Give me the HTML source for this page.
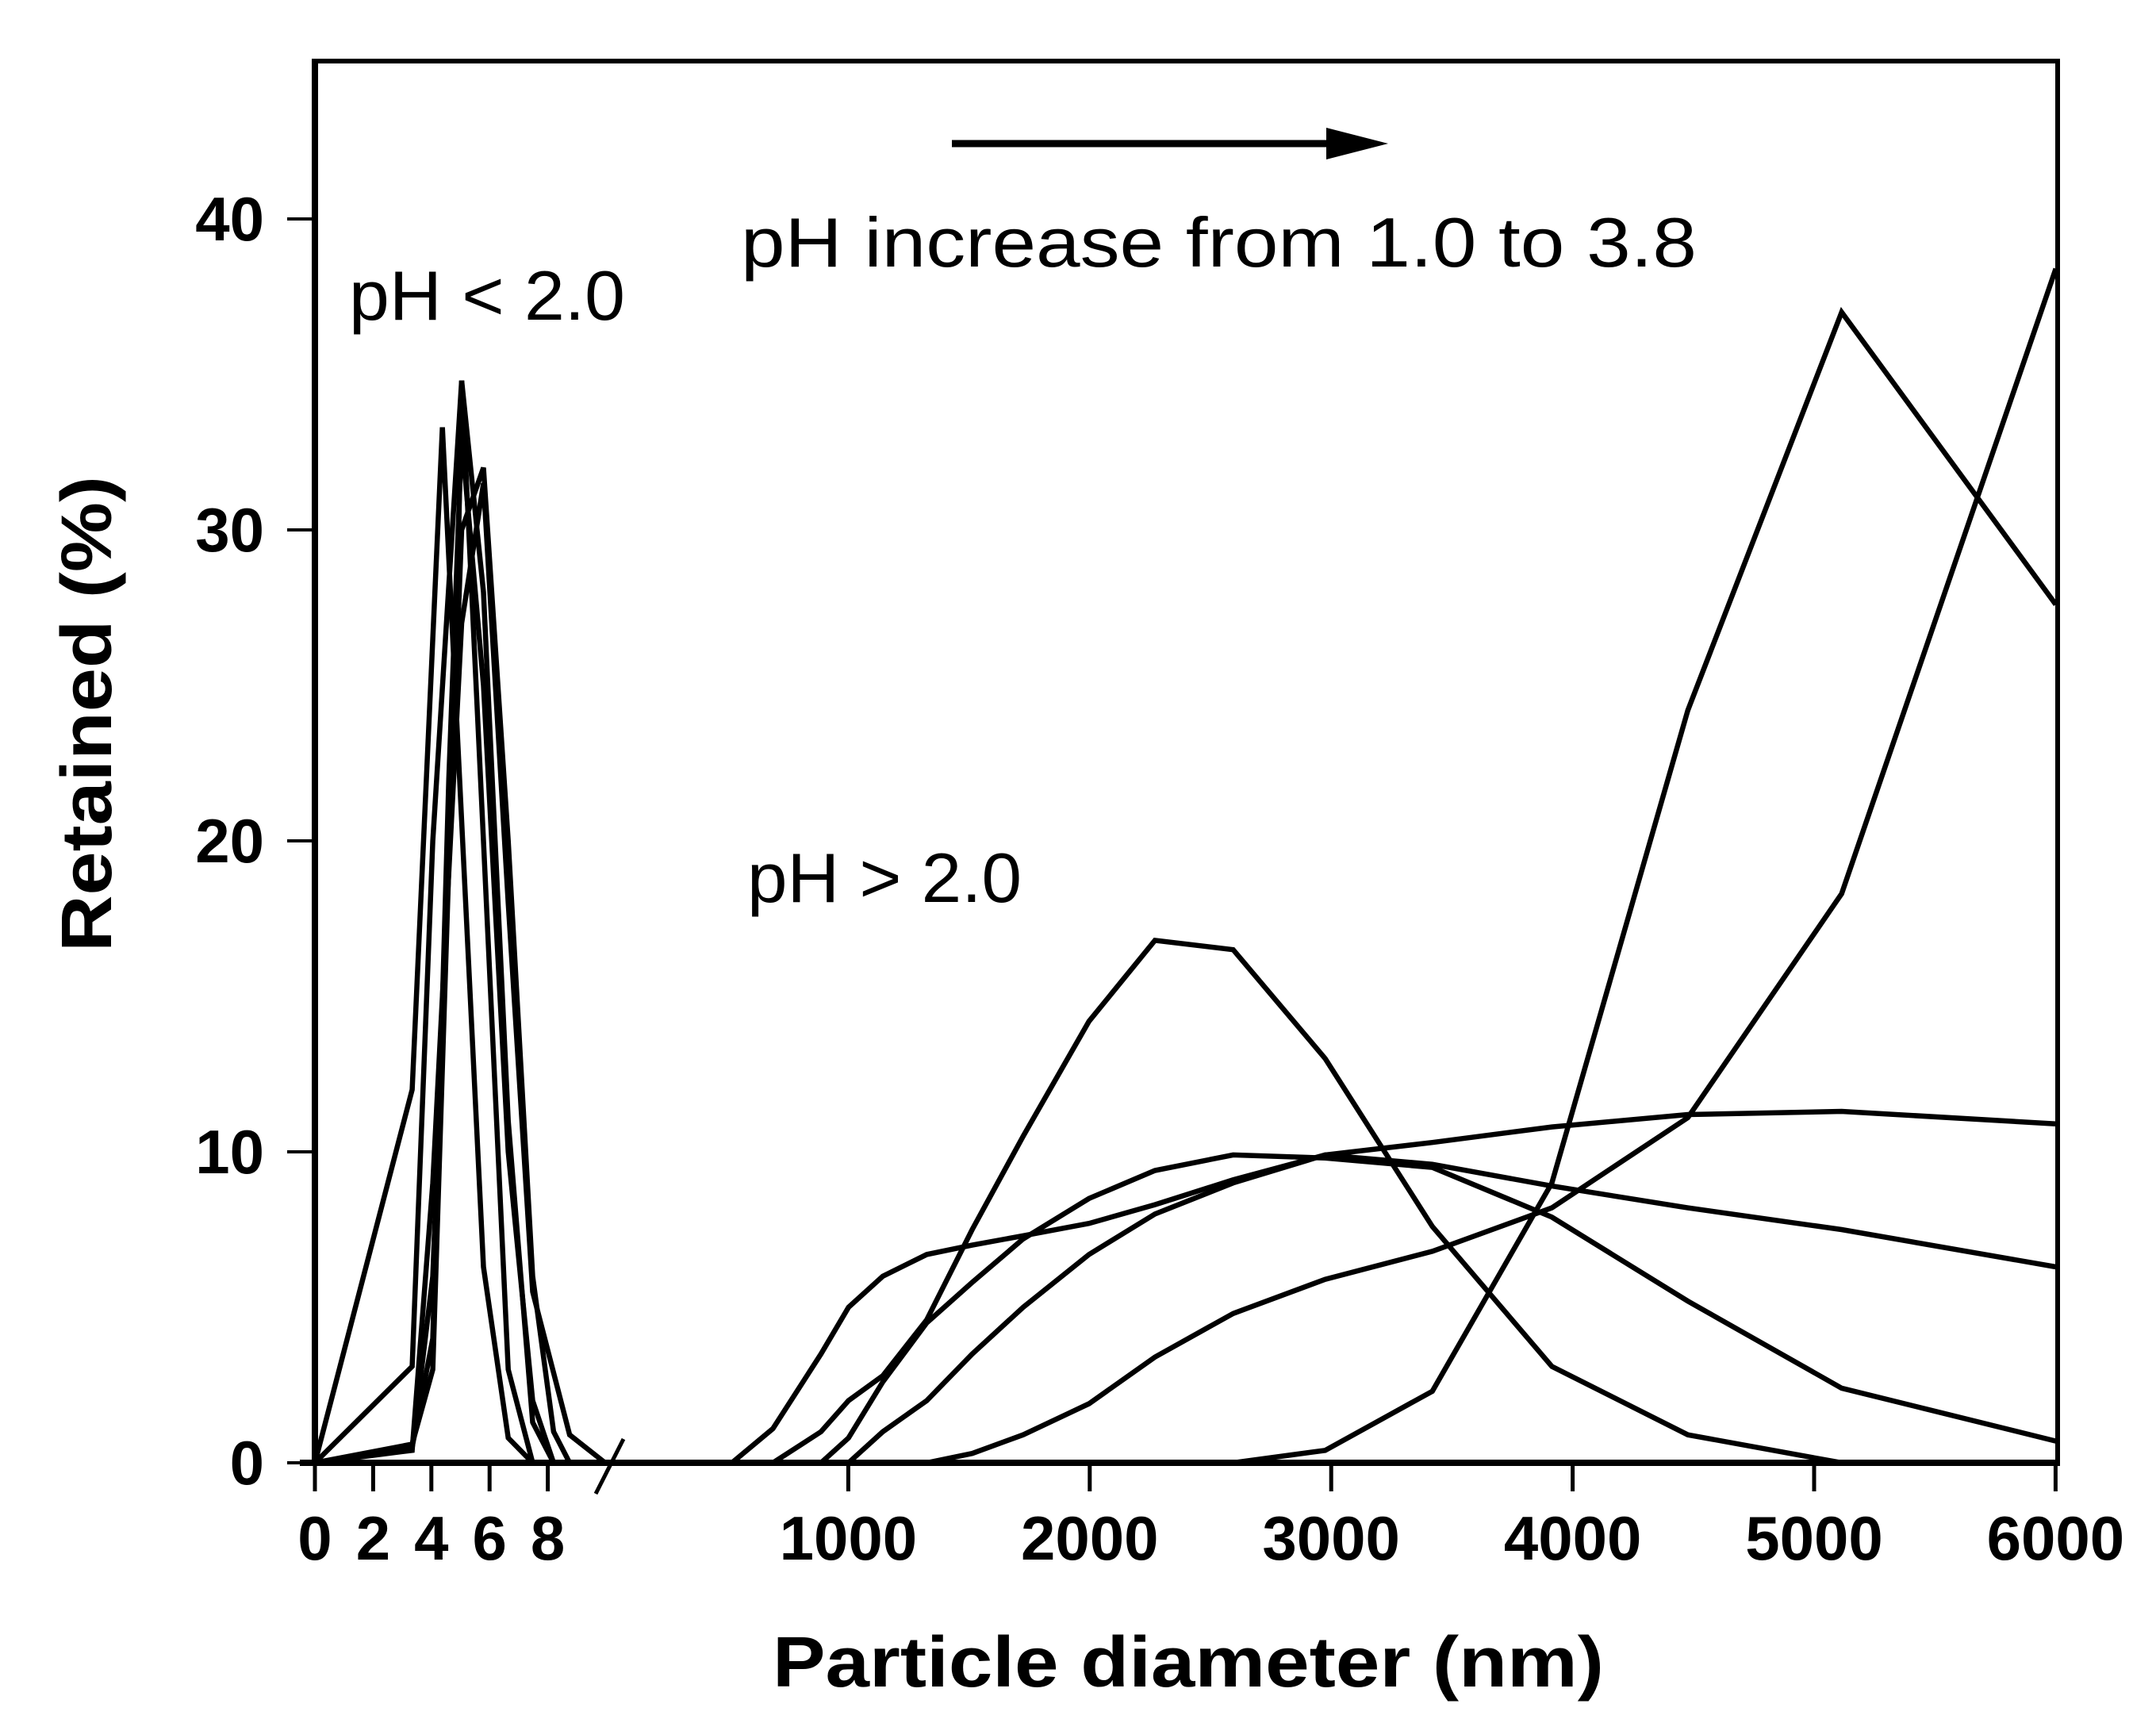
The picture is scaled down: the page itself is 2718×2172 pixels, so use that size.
<!DOCTYPE html>
<html><head><meta charset="utf-8"><style>
html,body{margin:0;padding:0;background:#fff}
svg{display:block}
text{font-family:"Liberation Sans",Arial,sans-serif;fill:#000}
</style></head><body>
<svg id="chart" width="2718" height="2172" viewBox="0 0 2718 2172" xmlns="http://www.w3.org/2000/svg">
<g id="frame">
<line x1="397" y1="77" x2="2597" y2="77" stroke="#000" stroke-width="6"/>
<line x1="2594" y1="77" x2="2594" y2="1844" stroke="#000" stroke-width="6"/>
<line x1="397" y1="74" x2="397" y2="1848" stroke="#000" stroke-width="8"/>
<line x1="378" y1="1844" x2="2597" y2="1844" stroke="#000" stroke-width="8"/>
<line x1="751" y1="1883" x2="786" y2="1814" stroke="#000" stroke-width="5"/>
</g>
<g id="ticks"></g>
<g id="series" fill="none" stroke="#000" stroke-width="6.5" stroke-linejoin="miter"></g>
<g>
<line x1="1200" y1="181" x2="1690" y2="181" stroke="#000" stroke-width="9"/>
<polygon points="1672,161 1750,181 1672,201" fill="#000"/>
</g>
<text x="934" y="336" font-size="88" textLength="1205" lengthAdjust="spacingAndGlyphs">pH increase from 1.0 to 3.8</text>
<text x="440" y="403" font-size="88" textLength="348" lengthAdjust="spacingAndGlyphs">pH &lt; 2.0</text>
<text x="942" y="1137" font-size="88" textLength="346" lengthAdjust="spacingAndGlyphs">pH &gt; 2.0</text>
<text x="1498" y="2126" font-size="90" font-weight="bold" text-anchor="middle" textLength="1048" lengthAdjust="spacingAndGlyphs">Particle diameter (nm)</text>
<text transform="translate(140,900) rotate(-90)" font-size="90" font-weight="bold" text-anchor="middle" textLength="600" lengthAdjust="spacingAndGlyphs">Retained (%)</text>
</svg>
<script>
// y ticks
const yTicks = [0, 10, 20, 30, 40];
// left (small) x segment ticks in nm
const xTicksSmall = [0, 2, 4, 6, 8];
// right (large) x segment ticks in nm
const xTicksLarge = [1000, 2000, 3000, 4000, 5000, 6000];

// small-diameter series (pH < 2.0): x in nm, y in %
const smallX1 = [0, 3.34, 4.05, 4.38, 5.79, 6.64, 7.48];
const smallY1 = [0, 12, 26.5, 33.3, 6.3, 0.8, 0];
const smallX2 = [0, 3.34, 4.05, 5.04, 5.79, 6.64, 7.48];
const smallY2 = [0, 3.1, 20, 34.8, 20, 3, 0];
const smallX3 = [0, 3.34, 4.05, 4.9, 5.04, 5.79, 6.64, 7.48, 8.2];
const smallY3 = [0, 0.6, 3, 28, 34.8, 28, 11, 1.3, 0];
const smallX4 = [0, 3.34, 4.05, 5.04, 5.79, 6.64, 7.48, 8.2, 8.75];
const smallY4 = [0, 0.5, 6, 30, 32, 20, 6, 1, 0];
const smallX5 = [0, 3.34, 4.05, 5.04, 5.79, 6.64, 7.48, 8.75, 9.97];
const smallY5 = [0, 0.4, 9, 27, 31.5, 18, 5.5, 0.9, 0];
const smallX6 = [0, 3.34, 4.05, 4.6, 5.04, 5.79, 6.64, 7.48, 8.2];
const smallY6 = [0, 0.5, 4, 22, 33, 25, 10, 2, 0];

// large-diameter series (pH > 2.0)
const largeXP = [688, 887, 1001, 1143, 1325, 1513, 1724, 1997, 2270, 2594, 2975, 3419, 3914, 4477, 5114];
const largeYP = [0, 1, 2, 2.8, 4.6, 7.5, 10.5, 14.2, 16.8, 16.5, 13, 7.6, 3.1, 0.9, 0];
const largeXF = [518, 688, 887, 1001, 1143, 1325, 1513, 1724, 1997, 2270, 2594, 2975, 3419, 3914, 4477, 5114, 6001];
const largeYF = [0, 1.1, 3.5, 5, 6, 6.7, 7, 7.3, 7.7, 8.3, 9.1, 9.9, 9.6, 8.9, 8.2, 7.5, 6.3];
const largeXR = [887, 1001, 1143, 1325, 1513, 1724, 1997, 2270, 2594, 2975, 3419, 3914, 4477, 5114, 6001];
const largeYR = [0, 0.8, 2.6, 4.5, 5.8, 7.2, 8.5, 9.4, 9.9, 9.8, 9.5, 7.9, 5.2, 2.4, 0.7];
const largeXS = [1001, 1143, 1325, 1513, 1724, 1997, 2270, 2594, 2975, 3419, 3914, 4477, 5114, 6001];
const largeYS = [0, 1, 2, 3.5, 5, 6.7, 8, 9, 9.9, 10.3, 10.8, 11.2, 11.3, 10.9];
const largeXT = [1325, 1513, 1724, 1997, 2270, 2594, 2975, 3419, 3914, 4477, 5114, 6001];
const largeYT = [0, 0.3, 0.9, 1.9, 3.4, 4.8, 5.9, 6.8, 8.2, 11.1, 18.3, 38.4];
const largeXU = [2594, 2975, 3419, 3914, 4477, 5114, 6001];
const largeYU = [0, 0.4, 2.3, 9, 24.2, 37, 27.6];

const NS = "http://www.w3.org/2000/svg";
function yScale(v){ return 1844 - v * 39.2; }
function xSmall(nm){ return 397 + nm * 36.7; }
function xLarge(nm){ return 765 + nm * 0.3044; }

const tickG = document.getElementById('ticks');
function mk(tag, attrs, parent){
  const e = document.createElementNS(NS, tag);
  for (const k in attrs) e.setAttribute(k, attrs[k]);
  parent.appendChild(e);
  return e;
}
yTicks.forEach(v => {
  const y = yScale(v);
  const t = mk('line', {x1: 362, y1: y, x2: 397, y2: y, stroke: '#000', 'stroke-width': 4}, tickG);
  
  
  const l = mk('text', {x: 333, y: y + 27, 'font-size': 78, 'font-weight': 'bold', 'text-anchor': 'end'}, tickG);
  l.textContent = v;
  
  
});
function xTick(x, label){
  const t = mk('line', {x1: x, y1: 1844, x2: x, y2: 1880, stroke: '#000', 'stroke-width': 5}, tickG);
  
  
  const l = mk('text', {x: x, y: 1966, 'font-size': 78, 'font-weight': 'bold', 'text-anchor': 'middle'}, tickG);
  l.textContent = label;
  
  
}
xTicksSmall.forEach(v => xTick(xSmall(v), v));
xTicksLarge.forEach(v => xTick(xLarge(v), v));

const serG = document.getElementById('series');
function drawLine(xs, ys, xf, name){
  const pts = xs.map((x, i) => xf(x).toFixed(1) + ',' + yScale(ys[i]).toFixed(1)).join(' ');
  const p = mk('polyline', {points: pts}, serG);
  
  
}
drawLine(smallX1, smallY1, xSmall, 'small-series-1');
drawLine(smallX2, smallY2, xSmall, 'small-series-2');
drawLine(smallX3, smallY3, xSmall, 'small-series-3');
drawLine(smallX4, smallY4, xSmall, 'small-series-4');
drawLine(smallX5, smallY5, xSmall, 'small-series-5');
drawLine(smallX6, smallY6, xSmall, 'small-series-6');
drawLine(largeXP, largeYP, xLarge, 'large-series-peak-2300');
drawLine(largeXF, largeYF, xLarge, 'large-series-flat');
drawLine(largeXR, largeYR, xLarge, 'large-series-r');
drawLine(largeXS, largeYS, xLarge, 'large-series-s');
drawLine(largeXT, largeYT, xLarge, 'large-series-t');
drawLine(largeXU, largeYU, xLarge, 'large-series-u');
</script>
</body></html>
